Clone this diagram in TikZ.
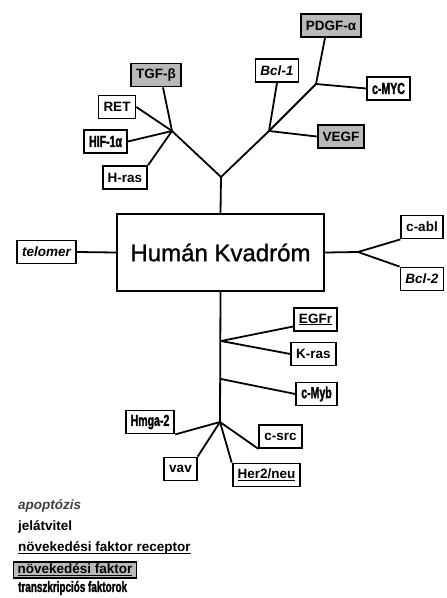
\documentclass[tikz,border=0pt]{standalone}
\usepackage{fontspec}
\setmainfont{Liberation Sans}
\newfontfamily\narrowfont[FakeStretch=0.66, FakeBold=1.5]{Liberation Sans}
\newfontfamily\heavyfont[FakeBold=1]{Liberation Sans}
\newcommand{\baseul}[1]{\underline{\raisebox{0pt}[\height][0pt]{#1}}}
\usetikzlibrary{positioning}

\begin{document}
\begin{tikzpicture}[x=1pt, y=-1pt,
        gene/.style={draw, line width=1.8pt, inner xsep=5pt, inner ysep=2pt,
            minimum height=23pt, font=\fontsize{13.5}{15}\selectfont\bfseries},
        apoptosis/.style={gene, font=\fontsize{13.5}{15}\selectfont\bfseries\itshape},
        growthrec/.style={gene},
        growth/.style={gene, fill=gray!55},
        tfactor/.style={gene, font=\fontsize{16}{17}\narrowfont\bfseries},
        branch/.style={line width=1.8pt},
        legend/.style={anchor=west, inner sep=0pt, font=\fontsize{13.5}{15}\selectfont\bfseries},
    ]
\useasboundingbox (0,0) rectangle (447,598);

% centre
\node[draw, line width=1.8pt, minimum width=207pt, minimum height=77pt,
      font=\fontsize{24}{28}\heavyfont] (hk) at (220.5,252.5) {Humán Kvadróm};

% upper tree
\node[growth] (pdgf) at (331,25.5) {PDGF-α};
\node[growth] (tgf) at (156,75) {TGF-β};
\node[apoptosis] (bcl1) at (277,70.5) {Bcl-1};
\node[tfactor] (cmyc) at (388.5,88.5) {c-MYC};
\node[gene] (ret) at (117,107) {RET};
\node[tfactor] (hif) at (105.5,141.5) {HIF-1α};
\node[gene] (hras) at (125,177.5) {H-ras};
\node[growth] (vegf) at (341,136.5) {VEGF};

\coordinate (jtop) at (221,177);
\coordinate (jleft) at (172,131);
\coordinate (jright) at (269,131);
\coordinate (jpdgf) at (316,84);

\draw[branch] (hk.north) -- (jtop);
\draw[branch] (jtop) -- (jleft);
\draw[branch] (jtop) -- (jright) -- (jpdgf);
\draw[branch] (jleft) -- ([xshift=7pt]tgf.south);
\draw[branch] (jleft) -- (ret.east);
\draw[branch] (jleft) -- (hif.east);
\draw[branch] (jleft) -- (hras.north east);
\draw[branch] (jright) -- (bcl1.south);
\draw[branch] (jright) -- (vegf.west);
\draw[branch] (jpdgf) -- ([xshift=-6pt]pdgf.south);
\draw[branch] (jpdgf) -- (cmyc.west);

% sides
\node[apoptosis] (telomer) at (46.5,252) {telomer};
\node[gene] (cabl) at (422,227) {c-abl};
\node[apoptosis] (bcl2) at (422,279) {Bcl-2};
\coordinate (jabl) at (358,252);

\draw[branch] (telomer.east) -- (hk.west);
\draw[branch] (hk.east) -- (jabl);
\draw[branch] (jabl) -- (cabl.south west);
\draw[branch] (jabl) -- (bcl2.north west);

% lower tree
\node[growthrec] (egfr) at (315.5,319.5) {\baseul{EGFr}};
\node[gene] (kras) at (313.5,354) {K-ras};
\node[tfactor] (cmyb) at (316.5,394) {c-Myb};
\node[tfactor] (hmga) at (150,422) {Hmga-2};
\node[gene] (csrc) at (280.5,436.5) {c-src};
\node[gene] (vav) at (180.5,469) {vav};
\node[growthrec] (her2) at (266.5,475) {\baseul{Her2/neu}};

\coordinate (jegf) at (221,341);
\coordinate (jmyb) at (221,379);
\coordinate (jbot) at (220,422);

\draw[branch] (hk.south) -- (jbot);
\draw[branch] (jegf) -- ([yshift=-7pt]egfr.west);
\draw[branch] (jegf) -- (kras.west);
\draw[branch] (jmyb) -- (cmyb.west);
\draw[branch] (jbot) -- (hmga.south east);
\draw[branch] (jbot) -- (csrc.south west);
\draw[branch] (jbot) -- (vav.north east);
\draw[branch] (jbot) -- (her2.north west);

% legend
\node[legend, font=\fontsize{13.5}{15}\selectfont\bfseries\itshape, text=black!75] (lapo) at (18,506) {apoptózis};
\node[legend] (ljel) at (18,527) {jelátvitel};
\node[legend] (lrec) at (18,548) {\baseul{növekedési faktor receptor}};
\node[legend, draw, line width=1.2pt, fill=gray!55, inner xsep=4pt, inner ysep=2pt] (lgro) at (13,570) {\baseul{növekedési faktor}};
\node[legend, font=\fontsize{15}{16}\narrowfont\bfseries] (ltf) at (18,588) {transzkripciós faktorok};
\end{tikzpicture}
\end{document}
